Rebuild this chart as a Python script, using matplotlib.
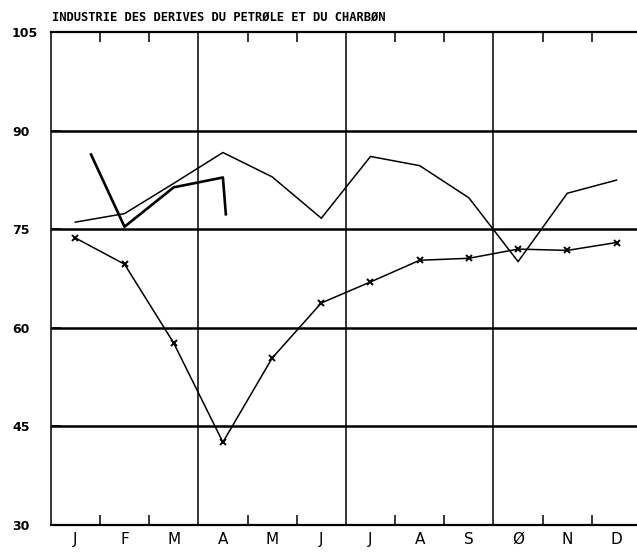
import numpy as np
import matplotlib
matplotlib.use("Agg")
import matplotlib.pyplot as plt

# months (October drawn with the plotter's slashed O)
MONTHS = ["J", "F", "M", "A", "M", "J", "J", "A", "S", "Ø", "N", "D"]
TITLE = "INDUSTRIE DES DERIVES DU PETRØLE ET DU CHARBØN"

# thin solid series, one value per month
solid = [76.1, 77.4, 82.0, 86.7, 83.0, 76.7, 86.1, 84.7, 79.8, 70.1, 80.5, 82.5]
# series with x markers
crossed = [73.7, 69.7, 57.7, 42.6, 55.4, 63.8, 67.0, 70.3, 70.6, 72.0, 71.8, 73.0]
# short heavier stroke over the first months (month index, value)
stroke_x = [0.32, 1.0, 2.0, 3.0, 3.06]
stroke_y = [86.4, 75.4, 81.4, 82.9, 77.3]

YTICKS = [30, 45, 60, 75, 90, 105]

fig = plt.figure(figsize=(6.37, 5.52), dpi=100)
ax = fig.add_axes([50.7 / 637, 27 / 552, 590.4 / 637, 492.7 / 552])

xc = np.arange(len(MONTHS)) + 0.5
ax.plot(xc, solid, color="k", lw=1.1, zorder=3)
ax.plot(np.array(stroke_x) + 0.5, stroke_y, color="k", lw=1.9, zorder=3)
ax.plot(xc, crossed, color="k", lw=1.1, marker="x", ms=4.5, mew=1.4, zorder=3)

# grid: heavy horizontals, lighter quarter verticals
for v in YTICKS[1:-1]:
    ax.axhline(v, color="k", lw=1.8, zorder=2)
for q in (3, 6, 9):
    ax.axvline(q, color="k", lw=1.1, zorder=2)

ax.set_xlim(0, 12)
ax.set_ylim(30, 105)

ax.set_xticks([1, 2, 4, 5, 7, 8, 10, 11])
ax.set_xticklabels([])
ax.set_xticks(xc, minor=True)
ax.set_xticklabels(MONTHS, minor=True, fontsize=11, family="DejaVu Sans")
ax.tick_params(axis="x", which="major", direction="in", length=7.5, width=1.1,
               top=True, bottom=True)
ax.tick_params(axis="x", which="minor", length=0, pad=5)

ax.set_yticks(YTICKS)
ax.set_yticklabels([str(v) for v in YTICKS], fontsize=9, fontweight="bold")
ax.tick_params(axis="y", direction="in", length=7, width=1.1, pad=27.9)
for lab in ax.get_yticklabels():
    lab.set_horizontalalignment("left")

ax.spines["left"].set_linewidth(1.1)
ax.spines["bottom"].set_linewidth(1.6)
ax.spines["top"].set_linewidth(1.6)
ax.spines["right"].set_visible(False)

fig.text(52 / 637, 1 - 17 / 552, TITLE, family="DejaVu Sans Mono",
         fontsize=8.7, fontweight="bold", va="center", ha="left")

fig.savefig("out.png", dpi=100)
